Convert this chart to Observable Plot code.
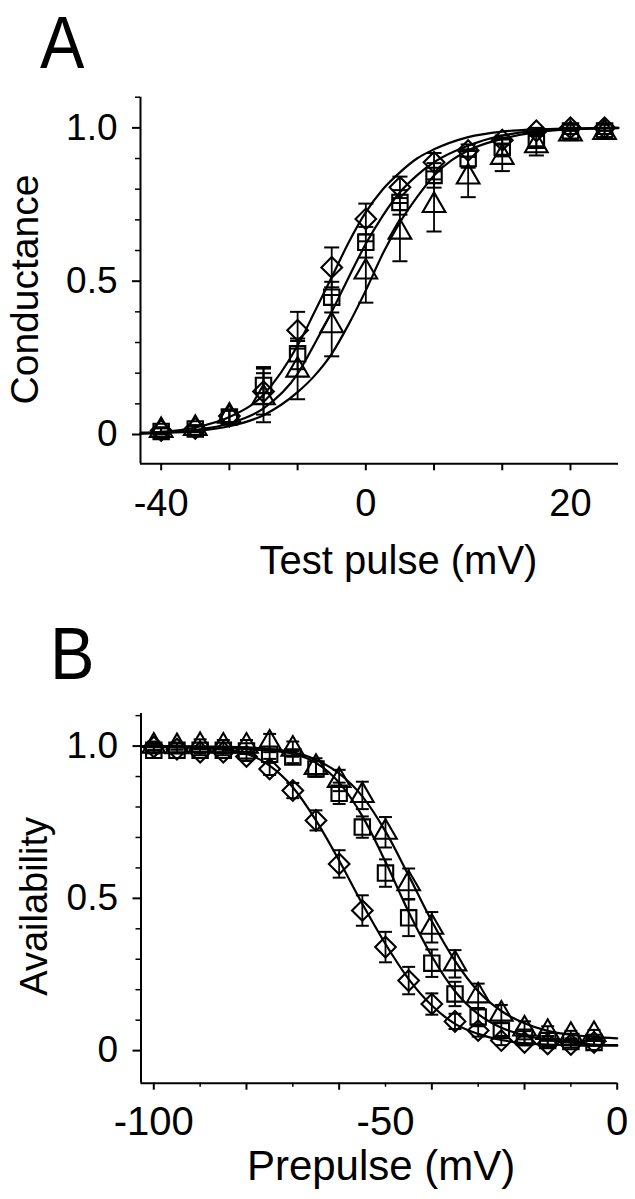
<!DOCTYPE html>
<html>
<head>
<meta charset="utf-8">
<script src="https://cdn.jsdelivr.net/npm/d3@7"></script>
<script src="https://cdn.jsdelivr.net/npm/@observablehq/plot@0.6"></script>
<style>
  html, body { margin: 0; padding: 0; background: #fff; }
  body { width: 635px; height: 1199px; position: relative; overflow: hidden; font-family: "Liberation Sans", Arial, sans-serif; color: #000; }
  .letter { position: absolute; z-index: 5; font-size: 74px; line-height: normal; font-family: "Liberation Sans", Arial, sans-serif; transform: scaleX(0.9); transform-origin: left top; }
  .panel { position: absolute; left: 0; z-index: 1; }
</style>
</head>
<body>
<div class="panel" id="panelA" style="top:0px;"></div>
<div class="panel" id="panelB" style="top:600px;"></div>
<div class="letter" style="left:40px; top:0px;">A</div>
<div class="letter" style="left:50px; top:611px;">B</div>
<script>
// ---------------- Panel A data: conductance vs test pulse ----------------
const testPulse = [-40, -35, -30, -25, -20, -15, -10, -5, 0, 5, 10, 15, 20, 25];
const condDiamond = [0.013, 0.02, 0.06, 0.14, 0.34, 0.545, 0.703, 0.806, 0.888, 0.926, 0.96, 0.99, 1.0, 1.0];
const condDiamondErr = [0.01, 0.01, 0.02, 0.075, 0.06, 0.065, 0.05, 0.035, 0.03, 0.02, 0.015, 0.01, 0.01, 0.01];
const condSquare = [0.01, 0.018, 0.057, 0.16, 0.263, 0.448, 0.627, 0.757, 0.845, 0.9, 0.937, 0.96, 0.99, 0.99];
const condSquareErr = [0.01, 0.01, 0.02, 0.06, 0.05, 0.05, 0.05, 0.04, 0.04, 0.03, 0.03, 0.02, 0.01, 0.01];
const condTriangle = [0.013, 0.02, 0.06, 0.12, 0.21, 0.355, 0.53, 0.66, 0.747, 0.84, 0.904, 0.942, 0.98, 0.985];
const condTriangleErr = [0.01, 0.01, 0.02, 0.08, 0.095, 0.1, 0.1, 0.095, 0.085, 0.066, 0.045, 0.032, 0.02, 0.015];

// fitted curves
const fitPulse = [-43, -40, -35, -30, -25, -20, -17.5, -15, -12.5, -10, -7.5, -5, -2.5, 0, 5, 10, 15, 20, 27];
const fitCondDiamond = [0.006, 0.009, 0.023, 0.057, 0.13, 0.29, 0.40, 0.513, 0.627, 0.725, 0.80, 0.855, 0.90, 0.93, 0.97, 0.988, 0.995, 0.998, 1.0];
const fitCondSquare = [0.004, 0.006, 0.015, 0.036, 0.085, 0.198, 0.296, 0.40, 0.513, 0.622, 0.714, 0.79, 0.845, 0.888, 0.942, 0.975, 0.99, 0.997, 1.0];
const fitCondTriangle = [0.003, 0.005, 0.011, 0.027, 0.063, 0.138, 0.192, 0.263, 0.36, 0.47, 0.59, 0.692, 0.774, 0.845, 0.926, 0.964, 0.986, 0.995, 0.999];

const xTicksA = [-40, -30, -20, -10, 0, 10, 20];
const xTickLabelsA = ["-40", "", "", "0", "", "", "20"];
const yMajorTicks = [0, 0.5, 1.0];
const yMajorLabels = ["0", "0.5", "1.0"];
const yMinorTicks = [0.1, 0.2, 0.3, 0.4, 0.6, 0.7, 0.8, 0.9, 1.1];

// ---------------- Panel B data: availability vs prepulse ----------------
const prepulse = [-100, -95, -90, -85, -80, -75, -70, -65, -60, -55, -50, -45, -40, -35, -30, -25, -20, -15, -10, -5];
const availDiamond = [0.997, 0.99, 0.98, 0.98, 0.966, 0.925, 0.854, 0.756, 0.613, 0.46, 0.34, 0.23, 0.153, 0.096, 0.066, 0.033, 0.027, 0.022, 0.02, 0.027];
const availDiamondErr = [0.01, 0.01, 0.01, 0.01, 0.015, 0.02, 0.025, 0.033, 0.045, 0.05, 0.05, 0.045, 0.035, 0.025, 0.02, 0.015, 0.01, 0.01, 0.01, 0.01];
const availSquare = [0.986, 0.986, 0.986, 0.986, 0.984, 0.973, 0.964, 0.925, 0.845, 0.734, 0.583, 0.436, 0.287, 0.186, 0.11, 0.066, 0.044, 0.033, 0.03, 0.027];
const availSquareErr = [0.01, 0.01, 0.01, 0.01, 0.01, 0.015, 0.02, 0.025, 0.035, 0.035, 0.045, 0.06, 0.045, 0.04, 0.03, 0.025, 0.02, 0.015, 0.01, 0.01];
const availTriangle = [1.0, 0.998, 1.002, 1.0, 1.0, 1.01, 0.99, 0.93, 0.887, 0.838, 0.717, 0.548, 0.405, 0.285, 0.18, 0.12, 0.071, 0.06, 0.05, 0.053];
const availTriangleErr = [0.015, 0.01, 0.02, 0.02, 0.02, 0.03, 0.025, 0.03, 0.035, 0.045, 0.05, 0.05, 0.05, 0.045, 0.04, 0.03, 0.025, 0.02, 0.015, 0.015];

const fitPrepulse = [-102.8, -100, -90, -85, -80, -75, -70, -65, -60, -55, -50, -45, -40, -35, -30, -25, -20, -15, -10, -5, 0];
const fitAvailDiamond = [0.998, 0.997, 0.993, 0.988, 0.975, 0.936, 0.865, 0.756, 0.624, 0.482, 0.35, 0.235, 0.148, 0.088, 0.055, 0.035, 0.024, 0.02, 0.018, 0.016, 0.016];
const fitAvailSquare = [0.999, 0.999, 0.997, 0.995, 0.99, 0.985, 0.975, 0.945, 0.88, 0.77, 0.62, 0.455, 0.31, 0.195, 0.12, 0.075, 0.05, 0.036, 0.027, 0.02, 0.018];
const fitAvailTriangle = [1.0, 1.0, 0.999, 0.998, 0.996, 0.99, 0.98, 0.955, 0.91, 0.835, 0.72, 0.575, 0.425, 0.295, 0.195, 0.13, 0.09, 0.065, 0.052, 0.045, 0.04];

const xMajorTicksB = [-100, -80, -60, -40, -20, 0];
const xMinorTicksB = [-90, -70, -50, -30, -10];
const xLabelTicksB = [-100, -50, 0];
const xTickLabelsB = ["-100", "-50", "0"];

// ---------------- helpers ----------------
const seriesOrder = ["diamond", "square", "triangle"];
const markerSymbol = {diamond: "diamond2", square: "square2", triangle: "triangle2"};
const markerR = {diamond: 9.3, square: 9.8, triangle: 10.8};

function points(xs, ys, es, s) { return xs.map((x, i) => ({x, y: ys[i], e: es[i], s})); }
function curve(xs, ys, s) { return xs.map((x, i) => ({x, y: ys[i], s})); }

const capSymbol = { draw(context, size) { const w = Math.sqrt(size) / 2; context.moveTo(-w, 0); context.lineTo(w, 0); } };

const fontFamily = '"Liberation Sans", Arial, Helvetica, sans-serif';

function dataMarks(pts, fits, capR) {
  const marks = [];
  marks.push(Plot.line(fits, {x: "x", y: "y", z: "s", curve: "monotone-x", stroke: "black", strokeWidth: 2.2}));
  marks.push(Plot.ruleX(pts, {x: "x", y1: d => d.y - d.e, y2: d => d.y + d.e, stroke: "black", strokeWidth: 1.8}));
  marks.push(Plot.dot(pts, {x: "x", y: d => d.y + d.e, symbol: capSymbol, r: capR, stroke: "black", strokeWidth: 2}));
  marks.push(Plot.dot(pts, {x: "x", y: d => d.y - d.e, symbol: capSymbol, r: capR, stroke: "black", strokeWidth: 2}));
  for (const s of seriesOrder) {
    marks.push(Plot.dot(pts.filter(d => d.s === s), {x: "x", y: "y", symbol: markerSymbol[s], r: markerR[s], stroke: "black", fill: "none", strokeWidth: 2.1}));
  }
  return marks;
}

// ---------------- Panel A ----------------
const ptsA = [
  ...points(testPulse, condDiamond, condDiamondErr, "diamond"),
  ...points(testPulse, condSquare, condSquareErr, "square"),
  ...points(testPulse, condTriangle, condTriangleErr, "triangle")
];
const fitsA = [
  ...curve(fitPulse, fitCondDiamond, "diamond"),
  ...curve(fitPulse, fitCondSquare, "square"),
  ...curve(fitPulse, fitCondTriangle, "triangle")
];
const xDomainA = [-43.03, 27.04];
const yDomainA = [-0.0955, 1.1];

const plotA = Plot.plot({
  width: 635, height: 600,
  marginLeft: 140, marginRight: 17, marginTop: 96.7, marginBottom: 136.7,
  style: {fontFamily, background: "white", color: "black", overflow: "visible"},
  x: {domain: xDomainA, axis: null},
  y: {domain: yDomainA, axis: null},
  marks: [
    Plot.ruleX([xDomainA[0]], {stroke: "black", strokeWidth: 2}),
    Plot.ruleY([yDomainA[0]], {stroke: "black", strokeWidth: 2}),
    Plot.axisY(yMinorTicks, {tickSize: 5, tickFormat: () => "", strokeWidth: 1.5, label: null}),
    Plot.axisY(yMajorTicks, {tickSize: 8, tickPadding: 15, strokeWidth: 2, fontSize: 37, label: null,
      tickFormat: d => yMajorLabels[yMajorTicks.indexOf(d)]}),
    Plot.axisX(xTicksA, {tickSize: 7, tickPadding: 18, strokeWidth: 2, fontSize: 38, label: null,
      tickFormat: d => xTickLabelsA[xTicksA.indexOf(d)]}),
    ...dataMarks(ptsA, fitsA, 8.5),
    Plot.text(["Conductance"], {text: d => d, frameAnchor: "left", textAnchor: "middle", lineAnchor: "middle", dx: -115, dy: 9, rotate: -90, fontSize: 39}),
    Plot.text(["Test pulse (mV)"], {text: d => d, frameAnchor: "bottom", textAnchor: "middle", lineAnchor: "middle", dx: 19, dy: 97, fontSize: 40})
  ]
});
document.getElementById("panelA").appendChild(plotA);

// ---------------- Panel B ----------------
const ptsB = [
  ...points(prepulse, availDiamond, availDiamondErr, "diamond"),
  ...points(prepulse, availSquare, availSquareErr, "square"),
  ...points(prepulse, availTriangle, availTriangleErr, "triangle")
];
const fitsB = [
  ...curve(fitPrepulse, fitAvailDiamond, "diamond"),
  ...curve(fitPrepulse, fitAvailSquare, "square"),
  ...curve(fitPrepulse, fitAvailTriangle, "triangle")
];
const xDomainB = [-102.76, 0];
const yDomainB = [-0.107, 1.107];

const plotB = Plot.plot({
  width: 635, height: 599,
  marginLeft: 140.5, marginRight: 18.3, marginTop: 113, marginBottom: 116.3,
  style: {fontFamily, background: "white", color: "black", overflow: "visible"},
  x: {domain: xDomainB, axis: null},
  y: {domain: yDomainB, axis: null},
  marks: [
    Plot.ruleX([xDomainB[0]], {stroke: "black", strokeWidth: 2}),
    Plot.ruleY([yDomainB[0]], {stroke: "black", strokeWidth: 2}),
    Plot.axisY(yMinorTicks, {tickSize: 5, tickFormat: () => "", strokeWidth: 1.5, label: null}),
    Plot.axisY(yMajorTicks, {tickSize: 8, tickPadding: 15, strokeWidth: 2, fontSize: 37, label: null,
      tickFormat: d => yMajorLabels[yMajorTicks.indexOf(d)]}),
    Plot.axisX(xMinorTicksB, {tickSize: 4, tickFormat: () => "", strokeWidth: 1.5, label: null}),
    Plot.axisX(xMajorTicksB, {tickSize: 7, tickFormat: () => "", strokeWidth: 2, label: null}),
    Plot.axisX(xLabelTicksB, {tickSize: 0, tickPadding: 23, fontSize: 40, label: null,
      tickFormat: d => xTickLabelsB[xLabelTicksB.indexOf(d)]}),
    ...dataMarks(ptsB, fitsB, 7.3),
    Plot.text(["Availability"], {text: d => d, frameAnchor: "left", textAnchor: "middle", lineAnchor: "middle", dx: -106, dy: 8, rotate: -90, fontSize: 38}),
    Plot.text(["Prepulse (mV)"], {text: d => d, frameAnchor: "bottom", textAnchor: "middle", lineAnchor: "middle", dx: 2, dy: 83, fontSize: 42})
  ]
});
document.getElementById("panelB").appendChild(plotB);
</script>
</body>
</html>
